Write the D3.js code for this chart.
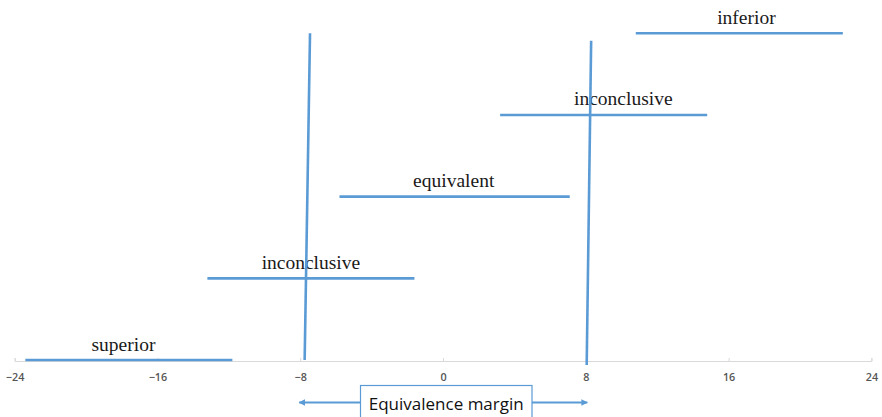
<!DOCTYPE html>
<html><head><meta charset="utf-8">
<script src="https://cdn.jsdelivr.net/npm/d3@7"></script>
<style>body{margin:0;background:#fff}svg{display:block}</style>
</head><body>
<script>
// Data
const labels = ["superior", "inconclusive", "equivalent", "inconclusive", "inferior"];
const rows = [0, 1, 2, 3, 4];
const lowers = [-23.4, -13.2, -5.8, 3.2, 10.8];
const uppers = [-11.8, -1.6, 7.1, 14.8, 22.4];
const labelAt = [-17.9, -7.4, 0.6, 10.1, 17.0];
const xTicks = [-24, -16, -8, 0, 8, 16, 24];
const marginLines = [
  {x0: -7.75, r0: 0.0, x1: -7.45, r1: 4.0},
  {x0: 8.05, r0: -0.06, x1: 8.3, r1: 3.91}
];
const marginArrow = [-8, 8];
const marginLabel = "Equivalence margin";

const W = 882, H = 417;
const blue = "#5b9bd5";
const svg = d3.select("body").append("svg").attr("width", W).attr("height", H);
const x = d3.scaleLinear().domain([-24, 24]).range([14.6, 871.4]);
const y = d3.scaleLinear().domain([0, 4]).range([360, 33.3]);

// axis
const axis = d3.axisBottom(x).tickValues(xTicks).tickSize(-3).tickPadding(12).tickFormat(d3.format("d"));
const gA = svg.append("g").attr("transform", "translate(0,361)").call(axis);
gA.select(".domain").attr("stroke", "#d9d9d9").attr("stroke-width", 1);
gA.selectAll(".tick line").attr("stroke", "#d9d9d9");
gA.selectAll(".tick text").attr("fill", "#555").attr("font-family", "Open Sans, Liberation Sans, sans-serif")
  .attr("font-size", 10.8).attr("font-weight", 600);

// horizontal segments
svg.append("g").selectAll("line").data(rows).join("line")
  .attr("x1", i => x(lowers[i])).attr("x2", i => x(uppers[i]))
  .attr("y1", i => y(rows[i])).attr("y2", i => y(rows[i]))
  .attr("stroke", blue).attr("stroke-width", 2.6);

// labels
svg.append("g").selectAll("text").data(rows).join("text")
  .attr("x", i => x(labelAt[i])).attr("y", i => y(rows[i]) - 9.5)
  .attr("text-anchor", "middle")
  .attr("font-family", "Liberation Serif, Times New Roman, serif")
  .attr("font-size", 19.5).attr("fill", "#1a1a1a")
  .text(i => labels[i]);

// margin vertical lines
svg.append("g").selectAll("line").data(marginLines).join("line")
  .attr("x1", d => x(d.x0)).attr("y1", d => y(d.r0))
  .attr("x2", d => x(d.x1)).attr("y2", d => y(d.r1))
  .attr("stroke", blue).attr("stroke-width", 2.6);

// equivalence margin box and arrows
const defs = svg.append("defs");
defs.append("marker").attr("id", "ah").attr("viewBox", "0 0 10 10")
  .attr("refX", 9).attr("refY", 5).attr("markerWidth", 3).attr("markerHeight", 3)
  .attr("orient", "auto-start-reverse")
  .append("path").attr("d", "M0,0L10,5L0,10z").attr("fill", blue);

const boxL = 360.5, boxR = 532, ay = 402.5;
svg.append("line").attr("x1", boxL).attr("x2", x(marginArrow[0]) - 1)
  .attr("y1", ay).attr("y2", ay).attr("stroke", blue).attr("stroke-width", 2.2)
  .attr("marker-end", "url(#ah)");
svg.append("line").attr("x1", boxR).attr("x2", x(marginArrow[1]) + 1.5)
  .attr("y1", ay).attr("y2", ay).attr("stroke", blue).attr("stroke-width", 2.2)
  .attr("marker-end", "url(#ah)");
svg.append("rect").attr("x", boxL).attr("y", 385.5).attr("width", boxR - boxL).attr("height", 40)
  .attr("fill", "#fff").attr("stroke", blue).attr("stroke-width", 1.2);
svg.append("text").attr("x", (boxL + boxR) / 2).attr("y", 409.5)
  .attr("text-anchor", "middle").attr("font-family", "Open Sans, Liberation Sans, sans-serif")
  .attr("font-size", 17).attr("fill", "#111").text(marginLabel);
</script>
</body></html>
